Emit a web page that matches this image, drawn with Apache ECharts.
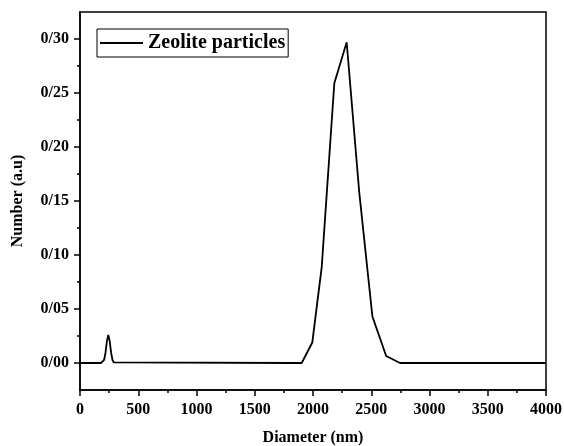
<!DOCTYPE html>
<html>
<head>
<meta charset="utf-8">
<script src="https://cdn.jsdelivr.net/npm/echarts@6/dist/echarts.min.js"></script>
<style>html,body{margin:0;padding:0;background:#fff}#c{width:564px;height:446px}</style>
</head>
<body>
<div id="c"></div>
<script>
const seriesName = 'Zeolite particles';
const diameters = [0, 180, 195, 207, 219, 231, 243, 255, 267, 279, 291, 305, 1818, 1903, 1994, 2075, 2183, 2289, 2397, 2510, 2628, 2747, 4000];
const numbers   = [0, 0, 0.0005, 0.0028, 0.0096, 0.0203, 0.026, 0.0203, 0.0096, 0.0028, 0.0005, 0, 0, 0, 0.019, 0.089, 0.259, 0.297, 0.158, 0.043, 0.0065, 0, 0];
const yLabelValues = [0, 0.05, 0.10, 0.15, 0.20, 0.25, 0.30];
const yMinorValues = [0.025, 0.075, 0.125, 0.175, 0.225, 0.275];
const xTitle = 'Diameter (nm)';
const yTitle = 'Number (a.u)';

const font = '"Liberation Serif", "Times New Roman", serif';
const pts = diameters.map((d, i) => [d, numbers[i]]);
const chart = echarts.init(document.getElementById('c'), null, {renderer: 'canvas'});
chart.setOption({
  animation: false,
  backgroundColor: '#fff',
  grid: {left: 80, right: 18, top: 12, bottom: 56, containLabel: false, outerBoundsMode: 'none',
    show: true, borderColor: '#000', borderWidth: 1.5, backgroundColor: 'transparent'},
  legend: {
    left: 97, top: 29,
    data: [{name: seriesName, icon: 'rect'}],
    itemWidth: 43, itemHeight: 2, itemGap: 5,
    padding: [4, 3, 4, 3],
    borderColor: '#000', borderWidth: 1,
    textStyle: {fontFamily: font, fontWeight: 'bold', fontSize: 20, color: '#000'},
    itemStyle: {color: '#000'}
  },
  xAxis: {
    type: 'value', min: 0, max: 4000, interval: 500,
    name: xTitle, nameLocation: 'middle', nameGap: 40,
    nameTextStyle: {fontFamily: font, fontWeight: 'bold', fontSize: 16, color: '#000'},
    axisLine: {show: true, onZero: false, lineStyle: {color: '#000', width: 1.5}},
    axisTick: {show: true, inside: false, length: 6, lineStyle: {color: '#000', width: 1.5}},
    minorTick: {show: true, splitNumber: 2, length: 3, lineStyle: {color: '#000', width: 1.5}},
    splitLine: {show: false},
    axisLabel: {fontFamily: font, fontWeight: 'bold', fontSize: 16, color: '#000', margin: 12,
      formatter: v => String(v)}
  },
  yAxis: [{
    type: 'value', min: -0.025, max: 0.325,
    name: yTitle, nameLocation: 'middle', nameGap: 54,
    nameTextStyle: {fontFamily: font, fontWeight: 'bold', fontSize: 16, color: '#000'},
    axisLine: {show: true, onZero: false, lineStyle: {color: '#000', width: 1.5}},
    axisTick: {show: true, inside: false, length: 6, customValues: yLabelValues, lineStyle: {color: '#000', width: 1.5}},
    splitLine: {show: false},
    axisLabel: {customValues: yLabelValues, fontFamily: font, fontWeight: 'bold', fontSize: 16, color: '#000', margin: 11,
      formatter: v => v.toFixed(2).replace('.', '/')}
  }, {
    type: 'value', min: -0.025, max: 0.325, position: 'left',
    axisLine: {show: false, onZero: false},
    axisTick: {show: true, inside: false, length: 3, customValues: yMinorValues, lineStyle: {color: '#000', width: 1.5}},
    axisLabel: {show: false},
    splitLine: {show: false}
  }],
  series: [{
    name: seriesName, type: 'line', data: pts, yAxisIndex: 0,
    symbol: 'none', lineStyle: {color: '#000', width: 1.8}, itemStyle: {color: '#000'}
  }]
});
</script>
</body>
</html>
